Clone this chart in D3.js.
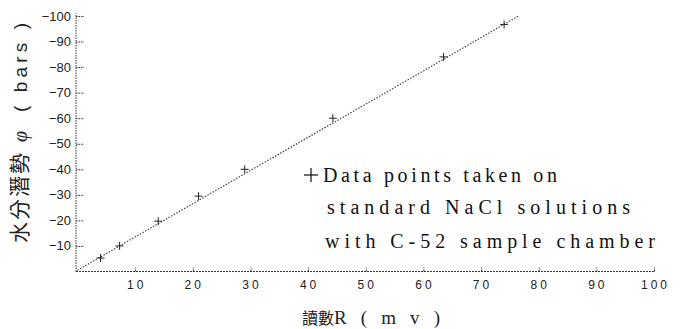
<!DOCTYPE html>
<html>
<head>
<meta charset="utf-8">
<script src="https://cdn.jsdelivr.net/npm/d3@7"></script>
<style>
	body { margin: 0; background: #fff; }
	svg { display: block; }
</style>
</head>
<body>
<div id="chart"></div>
<script>
// readings R (mv) and water potential (bars)
var pointsR = [4, 7.3, 14, 21, 29, 44.3, 63.5, 74];
var pointsPhi = [-5.3, -10, -19.7, -29.5, -40, -60, -84, -96.7];

// fitted calibration line, end points
var lineR = [0, 76.5];
var linePhi = [-0.5, -100];

var xTicks = [10, 20, 30, 40, 50, 60, 70, 80, 90, 100];
var yTicks = [-10, -20, -30, -40, -50, -60, -70, -80, -90, -100];

var legendLines = [
	"Data points taken on",
	"standard NaCl solutions",
	"with C-52 sample chamber"
];

function drawChart() {
	const width = 685, height = 329;
	const left = 76, bottom = 271.5;

	const x = d3.scaleLinear().domain([0, 100]).range([77.5, 654]);
	const y = d3.scaleLinear().domain([0, -100]).range([bottom, 16]);

	const svg = d3.select("#chart").append("svg")
		.attr("width", width)
		.attr("height", height);

	const ink = "#333";

	// axes (dotted, like the scan)
	const xAxis = svg.append("g")
		.attr("transform", "translate(0," + bottom + ")")
		.call(d3.axisTop(x).tickValues(xTicks).tickSize(4).tickFormat(""));
	xAxis.select(".domain").attr("d", "M" + left + ",0H" + x(100));
	xAxis.selectAll("path, line")
		.attr("stroke", ink)
		.attr("stroke-width", 1)
		.attr("stroke-dasharray", "2,1");

	const yAxis = svg.append("g")
		.attr("transform", "translate(" + left + ",0)")
		.call(d3.axisRight(y).tickValues(yTicks).tickSize(8).tickFormat(""));
	yAxis.select(".domain").attr("d", "M0," + bottom + "V" + y(-101));
	yAxis.selectAll("path, line")
		.attr("stroke", ink)
		.attr("stroke-width", 1)
		.attr("stroke-dasharray", "1.5,1");

	// tick labels
	svg.append("g").selectAll("text")
		.data(xTicks)
		.enter().append("text")
		.attr("x", d => x(d) + 1.5)
		.attr("y", 289)
		.attr("text-anchor", "middle")
		.style("font-family", "Liberation Sans, Arial, sans-serif")
		.style("font-size", "12px")
		.style("letter-spacing", "3px")
		.attr("fill", "#222")
		.text(d => d);

	svg.append("g").selectAll("text")
		.data(yTicks)
		.enter().append("text")
		.attr("x", 71)
		.attr("y", d => y(d) + 4.5)
		.attr("text-anchor", "end")
		.style("font-family", "Liberation Sans, Arial, sans-serif")
		.style("font-size", "13px")
		.attr("fill", "#222")
		.text(d => "\u2212" + Math.abs(d));

	// calibration line
	const line = d3.line()
		.x((d, i) => x(lineR[i]))
		.y((d, i) => y(linePhi[i]));

	svg.append("path")
		.datum(lineR)
		.attr("d", line)
		.attr("fill", "none")
		.attr("stroke", "#444")
		.attr("stroke-width", 1.2)
		.attr("stroke-dasharray", "1.5,1.5");

	// data points as small crosses
	const pts = pointsR.map((r, i) => ({ r: r, phi: pointsPhi[i] }));
	const marks = svg.append("g").selectAll("g")
		.data(pts)
		.enter().append("g")
		.attr("transform", d => "translate(" + x(d.r) + "," + y(d.phi) + ")");
	marks.append("line").attr("x1", -4).attr("x2", 4).attr("y1", 0).attr("y2", 0);
	marks.append("line").attr("x1", 0).attr("x2", 0).attr("y1", -4).attr("y2", 4);
	marks.selectAll("line").attr("stroke", "#222").attr("stroke-width", 1);

	// legend
	const legend = svg.append("g");
	legend.append("line").attr("x1", 304).attr("x2", 318).attr("y1", 175).attr("y2", 175)
		.attr("stroke", "#111").attr("stroke-width", 1.2);
	legend.append("line").attr("x1", 311).attr("x2", 311).attr("y1", 168).attr("y2", 182)
		.attr("stroke", "#111").attr("stroke-width", 1.2);

	const legendPos = [
		{ x: 323, y: 182, w: 234 },
		{ x: 327, y: 214, w: 303 },
		{ x: 325, y: 248, w: 330 }
	];
	legend.selectAll("text")
		.data(legendLines)
		.enter().append("text")
		.attr("x", (d, i) => legendPos[i].x)
		.attr("y", (d, i) => legendPos[i].y)
		.attr("textLength", (d, i) => legendPos[i].w)
		.attr("lengthAdjust", "spacing")
		.style("font-family", "Liberation Serif, DejaVu Serif, serif")
		.style("font-size", "20px")
		.attr("fill", "#111")
		.text(d => d);

	// axis titles
	const yTitle = svg.append("text")
		.attr("transform", "translate(27,243) rotate(-90)")
		.attr("fill", "#222");
	yTitle.append("tspan")
		.style("font-family", "Noto Sans CJK TC, sans-serif")
		.style("font-size", "21px")
		.style("letter-spacing", "2px")
		.text("水分潛勢");
	yTitle.append("tspan")
		.attr("x", 101)
		.style("font-family", "Liberation Serif, serif")
		.style("font-size", "20px")
		.style("font-style", "italic")
		.text("φ");
	yTitle.append("tspan")
		.attr("x", 131)
		.attr("textLength", 89)
		.attr("lengthAdjust", "spacing")
		.style("font-family", "Liberation Sans, sans-serif")
		.style("font-size", "19px")
		.text("( bars )");

	const xTitle = svg.append("text")
		.attr("x", 302)
		.attr("y", 324)
		.attr("fill", "#222");
	xTitle.append("tspan")
		.style("font-family", "Noto Sans CJK TC, sans-serif")
		.style("font-size", "16px")
		.text("讀數");
	xTitle.append("tspan")
		.attr("x", 334)
		.attr("textLength", 106)
		.attr("lengthAdjust", "spacing")
		.style("font-family", "Liberation Serif, serif")
		.style("font-size", "19px")
		.text("R ( m v )");
}

drawChart();
</script>
</body>
</html>
